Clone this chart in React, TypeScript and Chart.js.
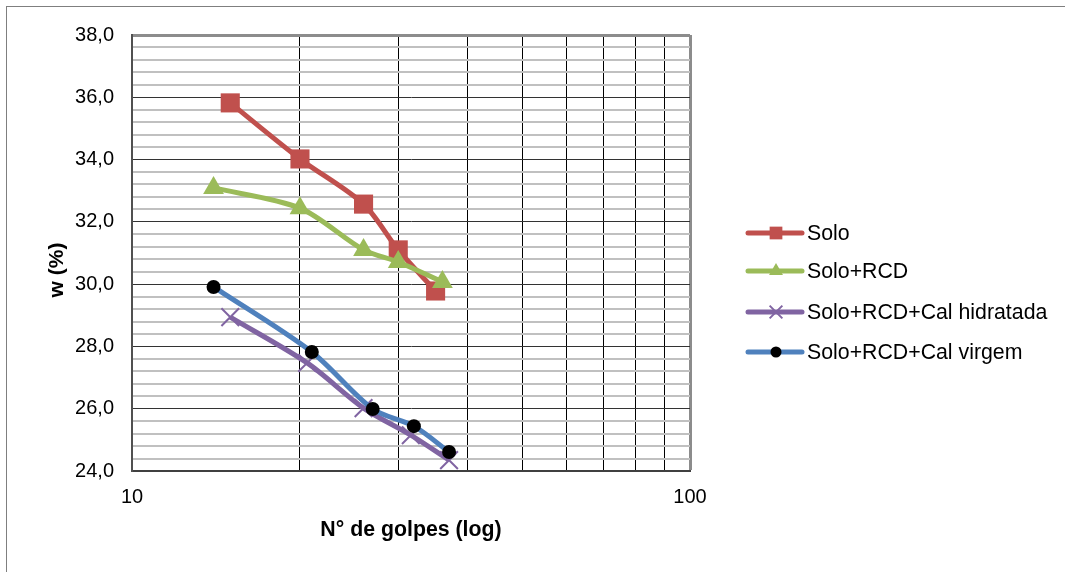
import React, { useEffect, useRef } from 'react';
import { Chart, registerables } from 'chart.js';

Chart.register(...registerables);

const seriesNames = ['Solo', 'Solo+RCD', 'Solo+RCD+Cal hidratada', 'Solo+RCD+Cal virgem'];

const soloX = [15, 20, 26, 30, 35];
const soloY = [35.82, 34.02, 32.57, 31.1, 29.78];

const rcdX = [14, 20, 26, 30, 36];
const rcdY = [33.09, 32.44, 31.1, 30.71, 30.07];

const hidX = [15, 20.6, 26, 31.6, 37];
const hidY = [28.94, 27.47, 26.02, 25.15, 24.35];

const virX = [14, 21, 27, 32, 37];
const virY = [29.91, 27.82, 25.99, 25.44, 24.61];

const xGridValues = [10, 20, 30, 40, 50, 60, 70, 80, 90, 100];
const xTickLabels = [10, 100];
const yMajorStep = 2;
const yMinorStep = 0.4;
const yTitle = 'w (%)';
const xTitle = 'N° de golpes (log)';

const FONT = "'Liberation Sans', Arial, sans-serif";

const toPoints = (xs: number[], ys: number[]) => xs.map((x, i) => ({ x, y: ys[i] }));

const isMajor = (v: number) => Math.abs(v / yMajorStep - Math.round(v / yMajorStep)) < 1e-6;

function drawMarker(ctx: CanvasRenderingContext2D, style: string, x: number, y: number, r: number, fill: string, stroke: string, bw: number) {
  ctx.save();
  ctx.fillStyle = fill;
  ctx.strokeStyle = stroke;
  ctx.lineWidth = bw;
  ctx.beginPath();
  if (style === 'rect') {
    const s = r * Math.SQRT1_2;
    ctx.rect(x - s, y - s, 2 * s, 2 * s);
    ctx.fill();
  } else if (style === 'triangle') {
    ctx.moveTo(x, y - r);
    ctx.lineTo(x + r * 0.866, y + r / 2);
    ctx.lineTo(x - r * 0.866, y + r / 2);
    ctx.closePath();
    ctx.fill();
  } else if (style === 'crossRot') {
    const d = r * Math.SQRT1_2;
    ctx.moveTo(x - d, y - d);
    ctx.lineTo(x + d, y + d);
    ctx.moveTo(x + d, y - d);
    ctx.lineTo(x - d, y + d);
    ctx.stroke();
  } else {
    ctx.arc(x, y, r, 0, Math.PI * 2);
    ctx.fill();
  }
  ctx.restore();
}

const legendPlugin = {
  id: 'customLegend',
  afterDraw(chart: any) {
    const ctx: CanvasRenderingContext2D = chart.ctx;
    const rows = [233, 271, 312, 352];
    const x0 = 748;
    const x1 = 802;
    const mx = (x0 + x1) / 2 + 1;
    chart.data.datasets.forEach((ds: any, i: number) => {
      const y = rows[i];
      ctx.save();
      ctx.strokeStyle = ds.borderColor;
      ctx.lineWidth = 5;
      ctx.lineCap = 'round';
      ctx.beginPath();
      ctx.moveTo(x0, y);
      ctx.lineTo(x1, y);
      ctx.stroke();
      ctx.restore();
      const lr = ds.pointStyle === 'rect' ? 9 : ds.pointStyle === 'triangle' ? 8 : ds.pointStyle === 'crossRot' ? 9 : 5.5;
      drawMarker(ctx, ds.pointStyle, mx, y, lr, ds.pointBackgroundColor, ds.pointBorderColor, 2);
      ctx.save();
      ctx.fillStyle = '#000';
      ctx.font = `21.3px ${FONT}`;
      ctx.textBaseline = 'middle';
      ctx.textAlign = 'left';
      ctx.fillText(seriesNames[i], 807, y + 1);
      ctx.restore();
    });
    // vertical axis title
    ctx.save();
    ctx.translate(57, 270);
    ctx.rotate(-Math.PI / 2);
    ctx.fillStyle = '#000';
    ctx.font = `bold 21px ${FONT}`;
    ctx.textAlign = 'center';
    ctx.textBaseline = 'middle';
    ctx.fillText(yTitle, 0, 0);
    ctx.restore();
  },
};

export default function App() {
  const ref = useRef<HTMLCanvasElement | null>(null);

  useEffect(() => {
    if (!ref.current) return;
    const chart = new Chart(ref.current, {
      type: 'line',
      data: {
        datasets: [
          {
            label: seriesNames[0],
            data: toPoints(soloX, soloY),
            borderColor: '#C0504D',
            backgroundColor: '#C0504D',
            pointBackgroundColor: '#C0504D',
            pointBorderColor: '#C0504D',
            pointStyle: 'rect',
            pointRadius: 13.5,
            pointBorderWidth: 0,
            borderWidth: 5,
            tension: 0.3,
            order: 4,
          },
          {
            label: seriesNames[1],
            data: toPoints(rcdX, rcdY),
            borderColor: '#9BBB59',
            backgroundColor: '#9BBB59',
            pointBackgroundColor: '#9BBB59',
            pointBorderColor: '#9BBB59',
            pointStyle: 'triangle',
            pointRadius: 12,
            pointBorderWidth: 0,
            borderWidth: 5,
            tension: 0.3,
            order: 3,
          },
          {
            label: seriesNames[2],
            data: toPoints(hidX, hidY),
            borderColor: '#8064A2',
            backgroundColor: '#8064A2',
            pointBackgroundColor: '#8064A2',
            pointBorderColor: '#8064A2',
            pointStyle: 'crossRot',
            pointRadius: 12.5,
            pointBorderWidth: 2,
            borderWidth: 5,
            tension: 0.3,
            order: 2,
          },
          {
            label: seriesNames[3],
            data: toPoints(virX, virY),
            borderColor: '#4F81BD',
            backgroundColor: '#4F81BD',
            pointBackgroundColor: '#000000',
            pointBorderColor: '#000000',
            pointStyle: 'circle',
            pointRadius: 7,
            pointBorderWidth: 0,
            borderWidth: 5,
            tension: 0.3,
            order: 1,
          },
        ] as any,
      },
      options: {
        animation: false,
        responsive: false,
        devicePixelRatio: 1,
        layout: { padding: { left: 0, top: 35, right: 375, bottom: 0 } },
        plugins: {
          legend: { display: false },
          tooltip: { enabled: false },
        },
        scales: {
          x: {
            type: 'logarithmic',
            min: 10,
            max: 100,
            afterBuildTicks: (s: any) => {
              s.ticks = xGridValues.map((v) => ({ value: v }));
            },
            afterFit: (s: any) => {
              s.height = 101;
            },
            border: { color: '#404040', width: 2 },
            grid: {
              drawTicks: false,
              color: (c: any) => (c.tick && c.tick.value === 100 ? '#8c8c8c' : '#000000'),
              lineWidth: (c: any) => (c.tick && c.tick.value === 100 ? 3 : 1),
            },
            ticks: {
              autoSkip: false,
              maxRotation: 0,
              padding: 14,
              color: '#000',
              font: { family: FONT, size: 20 },
              callback: (v: any) => (xTickLabels.includes(Number(v)) ? String(v) : ''),
            },
            title: {
              display: true,
              text: xTitle,
              color: '#000',
              font: { family: FONT, size: 21.3, weight: 'bold' },
              padding: { top: 0, bottom: 29 },
            },
          },
          y: {
            type: 'linear',
            min: 24,
            max: 38,
            afterFit: (s: any) => {
              s.width = 132;
            },
            border: { color: '#505050', width: 2 },
            grid: {
              drawTicks: false,
              color: (c: any) => {
                const v = c.tick ? c.tick.value : 0;
                if (Math.abs(v - 38) < 1e-6) return '#8c8c8c';
                return isMajor(v) ? '#333333' : '#c0c0c0';
              },
              lineWidth: (c: any) => {
                const v = c.tick ? c.tick.value : 0;
                if (Math.abs(v - 38) < 1e-6) return 3;
                return isMajor(v) ? 1 : 2;
              },
            },
            ticks: {
              stepSize: yMinorStep,
              autoSkip: false,
              padding: 18,
              color: '#000',
              font: { family: FONT, size: 20 },
              callback: (v: any) => (isMajor(Number(v)) ? Number(v).toFixed(1).replace('.', ',') : ''),
            },
            title: { display: false },
          },
        },
      } as any,
      plugins: [legendPlugin],
    });
    return () => chart.destroy();
  }, []);

  return (
    <div style={{ position: 'absolute', left: 0, top: 0, width: 1065, height: 572, overflow: 'hidden', background: '#fff' }}>
      <div style={{ position: 'absolute', left: 6, top: 6, width: 1100, height: 600, border: '1px solid #7f7f7f' }} />
      <canvas ref={ref} width={1065} height={572} style={{ position: 'absolute', left: 0, top: 0, width: 1065, height: 572 }} />
    </div>
  );
}
